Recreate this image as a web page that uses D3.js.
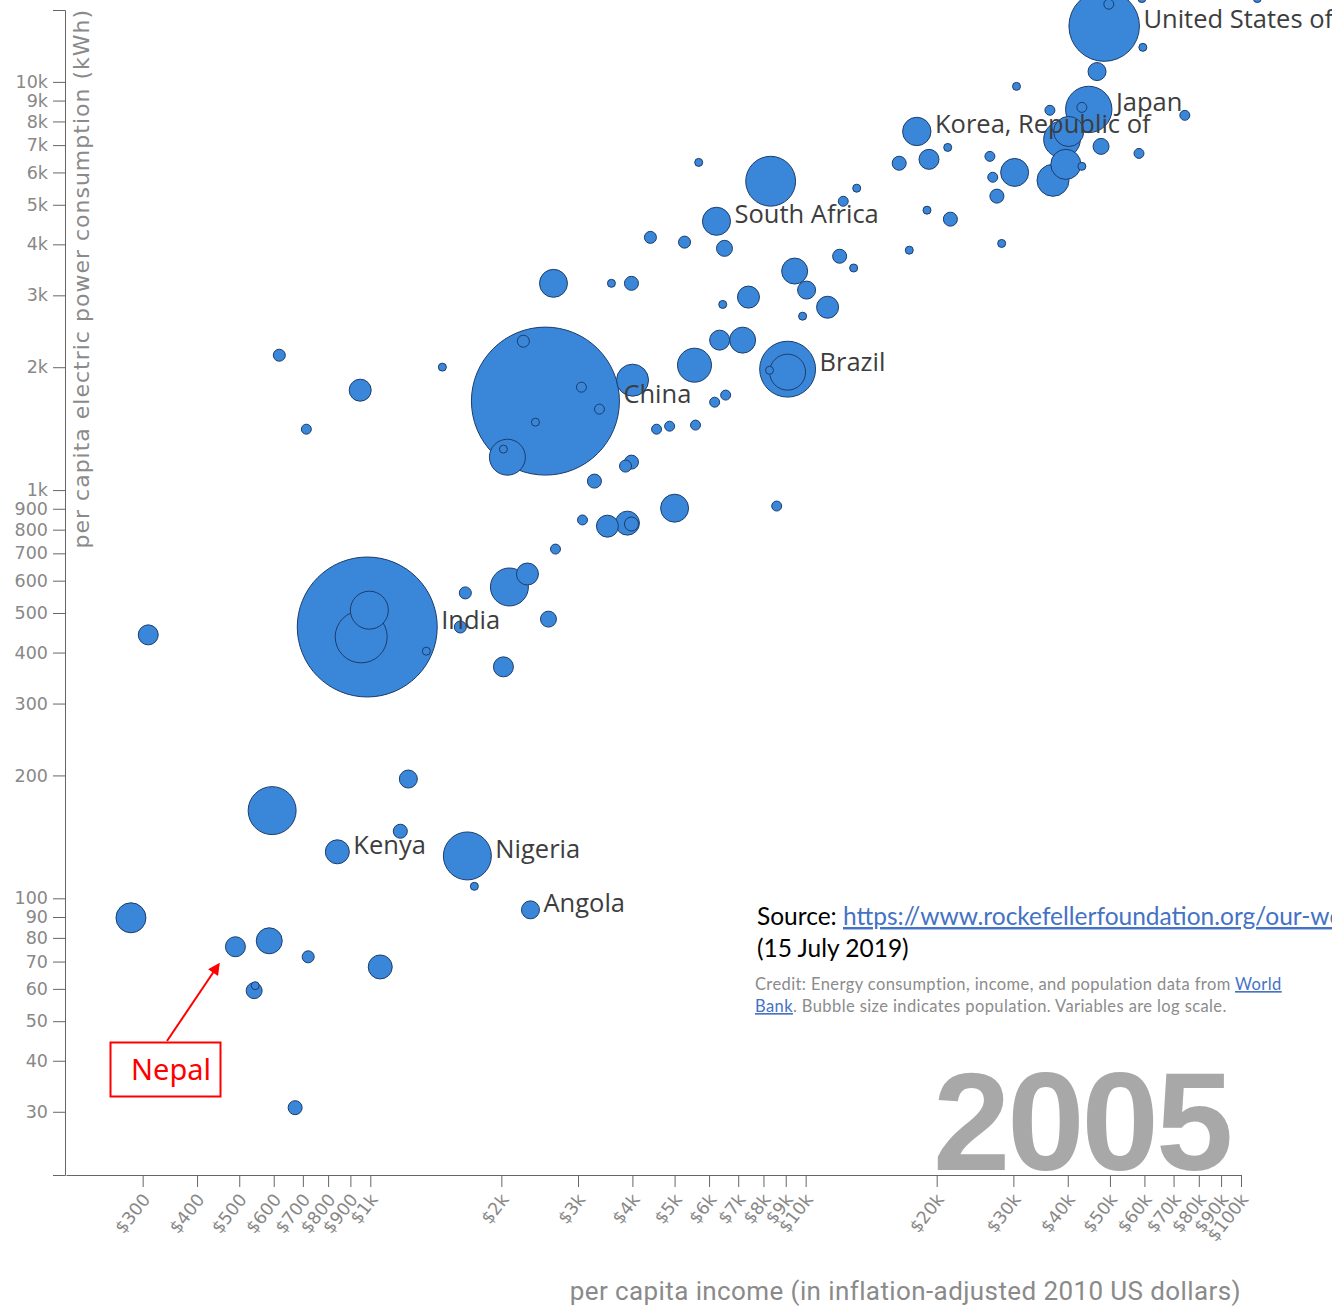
<!DOCTYPE html>
<html>
<head>
<meta charset="utf-8">
<script src="https://cdn.jsdelivr.net/npm/d3@7"></script>
<style>
  body { margin: 0; background: #fff; }
  .axis path, .axis line { stroke: #666; }
  .axis text { fill: #888; font-family: "DejaVu Sans", sans-serif; font-size: 17.5px; }
  .aTitle { fill: #8a8a8a; }
  .bubble { fill: #3a86d9; stroke: #1c3d6b; stroke-width: 1; }
  .cLabel { fill: #3d3d3d; font-family: "Open Sans", sans-serif; font-size: 25.5px; }
  .note { font-family: Lato, "Open Sans", sans-serif; }
  .link { fill: #4472c4; text-decoration: underline; }
</style>
</head>
<body>
<div id="scatter"></div>
<script>
let width = 1332;
let height = 1314;

// per capita income (2010 US$)
let income = [48500, 49700, 59200, 109000, 59500, 46700, 30500, 44700, 43100, 36400,
  74300, 18000, 40200, 38800, 39600, 37000, 47700, 58300, 43100, 19200,
  16400, 21200, 26500, 30200, 26900, 27500, 19000, 21500, 17300, 28200,
  13100, 12200, 5680, 8310, 6240, 6510, 5270, 4400, 2635, 3580,
  3980, 11970, 12890, 9435, 10050, 11230, 7390, 6450, 9840, 6345,
  7165, 5555, 9090, 9090, 8260, 2525, 2247, 3055, 3360, 2395,
  2065, 2022, 4003, 6550, 6180, 4545, 4870, 5585, 3980, 3857,
  3272, 5000, 8580, 3072, 3505, 3896, 3980, 2663, 1464, 618,
  948, 713, 984, 995, 953, 1345, 1653, 1610, 2087, 2296,
  2566, 2022, 309, 595, 1223, 1172, 840, 1671, 1734, 2333,
  282, 490, 586, 720, 1054, 541, 544, 672];

// per capita electric power consumption (kWh)
let power = [13700, 15500, 16000, 16000, 12150, 10600, 9750, 8560, 8660, 8520,
  8280, 7560, 7560, 7230, 6280, 5740, 6950, 6680, 6210, 6460,
  6320, 6910, 6570, 6000, 5840, 5250, 4850, 4610, 3870, 4020,
  5490, 5100, 6350, 5710, 4555, 3910, 4050, 4160, 3210, 3210,
  3210, 3740, 3500, 3440, 3090, 2805, 2970, 2850, 2667, 2330,
  2330, 2023, 1978, 1945, 1966, 1652, 2316, 1787, 1579, 1467,
  1204, 1260, 1859, 1709, 1642, 1410, 1434, 1443, 1171, 1145,
  1052, 903, 914, 845, 816, 830, 826, 717, 2001, 2140,
  1757, 1410, 462, 508, 437, 403, 560, 462, 579, 623,
  483, 369, 442, 164, 196, 146, 130, 127, 107, 93.7,
  89.6, 76.1, 78.7, 71.9, 67.9, 59.4, 61.1, 30.7];

// population (millions)
let population = [296, 5.9, 3.8, 3.8, 3.8, 19.3, 3.8, 128, 5.9, 5.9,
  5.9, 48, 54, 80, 54, 61, 15.2, 5.9, 3.8, 23.8,
  11.7, 3.8, 5.9, 46.6, 5.9, 11.7, 3.8, 11.7, 3.8, 3.8,
  3.8, 5.9, 3.8, 148, 47, 15.2, 8.6, 8.6, 46.6, 3.8,
  11.7, 11.7, 3.8, 40.2, 19.3, 28.8, 28.8, 3.8, 3.8, 23.8,
  40.2, 68.8, 186, 77, 3.8, 1304, 8.6, 5.9, 5.9, 3.8,
  77, 3.8, 61, 5.9, 5.9, 5.9, 5.9, 5.9, 11.7, 8.6,
  11.7, 46.6, 5.9, 5.9, 28.8, 34.3, 11.7, 5.9, 3.8, 8.6,
  28.8, 5.9, 1166, 85.9, 161, 3.8, 8.6, 8.6, 85.9, 28.8,
  15.2, 23.8, 23.8, 137, 19.3, 11.7, 34.3, 137, 3.8, 19.3,
  53.5, 23.8, 40.2, 8.6, 34.3, 15.2, 3.8, 11.7];

// country labels shown on the chart (index into the arrays above)
let labelNames = ["United States of America", "Japan", "Korea, Republic of", "South Africa",
  "Brazil", "China", "India", "Kenya", "Nigeria", "Angola"];
let labelIndex = [0, 7, 11, 34, 52, 55, 82, 96, 97, 99];

let xTicks = [300, 400, 500, 600, 700, 800, 900, 1000, 2000, 3000, 4000, 5000, 6000,
  7000, 8000, 9000, 10000, 20000, 30000, 40000, 50000, 60000, 70000, 80000, 90000, 100000];
let yTicks = [30, 40, 50, 60, 70, 80, 90, 100, 200, 300, 400, 500, 600, 700, 800, 900,
  1000, 2000, 3000, 4000, 5000, 6000, 7000, 8000, 9000, 10000];

let year = "2005";
let nepalIndex = 101;

let data = income.map((d, i) => ({ income: d, power: power[i], pop: population[i] }));

let x = d3.scaleLog().domain([200, 100000]).range([66, 1241]);
let y = d3.scaleLog().domain([21, 15000]).range([1175, 10]);
let r = d3.scaleSqrt().domain([0, 1304]).range([0, 74]);

let svg = d3
  .select("#scatter")
  .append("svg")
  .attr("width", width)
  .attr("height", height);

svg.append("defs").append("marker")
  .attr("id", "arrow")
  .attr("viewBox", "0 0 10 10")
  .attr("refX", 8).attr("refY", 5)
  .attr("markerWidth", 7).attr("markerHeight", 6)
  .attr("orient", "auto")
  .append("path")
  .attr("d", "M0,0L10,5L0,10z")
  .attr("fill", "#ff0000");

// year watermark
svg.append("text")
  .attr("x", 933).attr("y", 1170)
  .style("font-family", "'Liberation Sans', Arial, sans-serif")
  .style("font-weight", "bold")
  .style("font-size", "139px")
  .style("letter-spacing", "-3px")
  .attr("fill", "#a8a8a8")
  .text(year);

// axes
let fmt = d3.format("~s");

svg.append("g")
  .attr("class", "axis")
  .attr("transform", "translate(65,0)")
  .call(d3.axisLeft(y).tickValues(yTicks).tickFormat(fmt)
    .tickSize(12).tickSizeOuter(12).tickPadding(5));

let xAxis = svg.append("g")
  .attr("class", "axis")
  .attr("transform", "translate(0,1175)")
  .call(d3.axisBottom(x).tickValues(xTicks).tickFormat(d => "$" + fmt(d))
    .tickSize(12).tickSizeOuter(0));

xAxis.selectAll(".tick text")
  .attr("x", 0).attr("y", 0).attr("dy", "0.35em")
  .attr("transform", "translate(3,21) rotate(-52)")
  .style("text-anchor", "end");

svg.append("text")
  .attr("class", "aTitle")
  .attr("transform", "translate(89,9) rotate(-90)")
  .style("text-anchor", "end")
  .style("font-family", "'DejaVu Sans', sans-serif")
  .style("font-size", "22px")
  .style("letter-spacing", "1px")
  .text("per capita electric power consumption (kWh)");

svg.append("text")
  .attr("class", "aTitle")
  .attr("x", 1241).attr("y", 1300)
  .style("text-anchor", "end")
  .style("font-family", "Roboto, sans-serif")
  .style("font-size", "26px")
  .style("letter-spacing", "0.4px")
  .text("per capita income (in inflation-adjusted 2010 US dollars)");

// bubbles, biggest first so small ones stay visible on top
let sorted = data.slice().sort((a, b) => b.pop - a.pop);

svg.append("g")
  .selectAll("circle")
  .data(sorted)
  .join("circle")
  .attr("class", "bubble")
  .attr("cx", d => x(d.income))
  .attr("cy", d => y(d.power))
  .attr("r", d => r(d.pop));

svg.append("g")
  .selectAll("text")
  .data(labelIndex)
  .join("text")
  .attr("class", "cLabel")
  .attr("x", i => x(data[i].income) + r(data[i].pop) + 4)
  .attr("y", i => y(data[i].power) + 2)
  .text((i, k) => labelNames[k]);

// source / credit notes
let src = svg.append("text").attr("class", "note")
  .attr("x", 757).attr("y", 925).style("font-size", "24.5px").attr("fill", "#000");
src.append("tspan").text("Source: ");
src.append("tspan").attr("class", "link")
  .text("https://www.rockefellerfoundation.org/our-work/initiatives/energy/");
svg.append("text").attr("class", "note")
  .attr("x", 757).attr("y", 957).style("font-size", "24.5px").attr("fill", "#000")
  .text("(15 July 2019)");

let c1 = svg.append("text").attr("class", "note")
  .attr("x", 755).attr("y", 990).style("font-size", "16.5px")
  .style("letter-spacing", "0.4px").attr("fill", "#8b8b8b");
c1.append("tspan").text("Credit: Energy consumption, income, and population data from ");
c1.append("tspan").attr("class", "link").text("World");
let c2 = svg.append("text").attr("class", "note")
  .attr("x", 755).attr("y", 1012).style("font-size", "16.5px")
  .style("letter-spacing", "0.4px").attr("fill", "#8b8b8b");
c2.append("tspan").attr("class", "link").text("Bank");
c2.append("tspan").text(". Bubble size indicates population. Variables are log scale.");

// Nepal callout
let nepal = data[nepalIndex];
svg.append("rect")
  .attr("x", 110.5).attr("y", 1042.5)
  .attr("width", 110).attr("height", 54)
  .attr("fill", "#fff").attr("stroke", "#ff0000").attr("stroke-width", 2);
svg.append("text")
  .attr("x", 131).attr("y", 1080)
  .style("font-family", "'Noto Sans', sans-serif")
  .style("font-size", "29px")
  .attr("fill", "#ff0000")
  .text("Nepal");
svg.append("line")
  .attr("x1", 167).attr("y1", 1041)
  .attr("x2", x(nepal.income) - 17).attr("y2", y(nepal.power) + 18)
  .attr("stroke", "#ff0000").attr("stroke-width", 2)
  .attr("marker-end", "url(#arrow)");
</script>
</body>
</html>
